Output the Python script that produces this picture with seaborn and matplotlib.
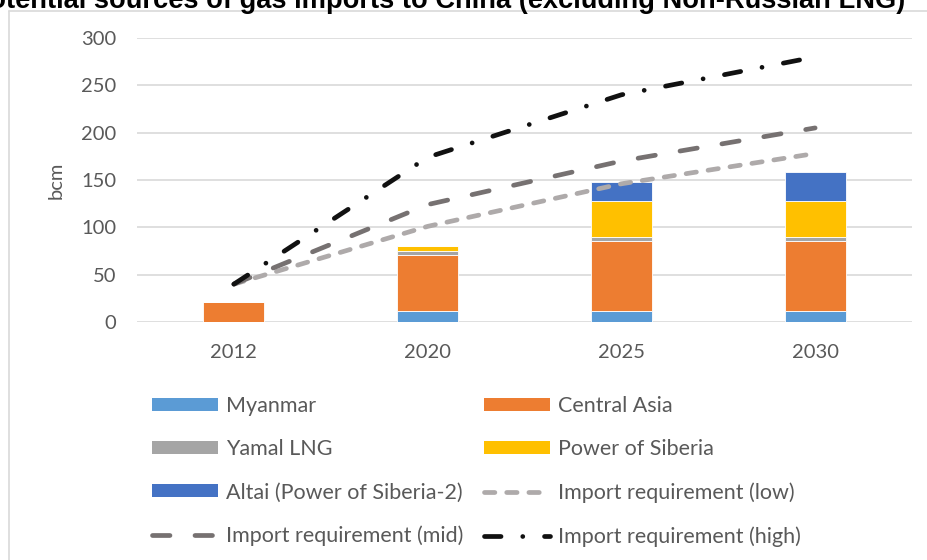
import matplotlib
matplotlib.use("Agg")
import matplotlib.pyplot as plt
import seaborn as sns
import numpy as np
from matplotlib.patches import Patch
from matplotlib.lines import Line2D

# Chart data (bcm)
years = ["2012", "2020", "2025", "2030"]
myanmar = [0, 12, 12, 12]
central_asia = [21, 59, 74, 74]
yamal_lng = [0, 4, 4, 4]
power_of_siberia = [0, 5, 38, 38]
altai = [0, 0, 20, 30]
req_low = [40, 101, 146, 178]
req_mid = [40, 124, 170, 205]
req_high = [40, 174, 240, 280]

stack_names = ["Myanmar", "Central Asia", "Yamal LNG", "Power of Siberia", "Altai (Power of Siberia-2)"]
stack_values = [myanmar, central_asia, yamal_lng, power_of_siberia, altai]
stack_colors = ["#5B9BD5", "#ED7D31", "#A5A5A5", "#FFC000", "#4472C4"]

line_names = ["Import requirement (low)", "Import requirement (mid)", "Import requirement (high)"]
line_values = [req_low, req_mid, req_high]
line_colors = ["#AEAAAA", "#767171", "#111111"]
line_styles = [(0, (2.2, 2.5)), (0, (3.7, 5.3)), (0, (3.5, 4.6, 0.01, 4.6))]

sns.set_style("white")
plt.rcParams["font.family"] = ["Lato", "DejaVu Sans"]

fig = plt.figure(figsize=(9.28, 5.6), dpi=100)
ax = fig.add_axes([137 / 928, 1 - 322 / 560, (912 - 137) / 928, (322 - 38) / 560])

# Stacked bars
bottom = np.zeros(len(years))
for name, vals, col in zip(stack_names, stack_values, stack_colors):
    sns.barplot(x=years, y=vals, bottom=bottom, color=col, saturation=1, width=0.315,
                errorbar=None, edgecolor="white", linewidth=0.6, ax=ax)
    bottom = bottom + np.array(vals)

# Import requirement lines
xpos = np.arange(len(years))
for name, vals, col, ls in zip(line_names, line_values, line_colors, line_styles):
    sns.lineplot(x=xpos, y=vals, color=col, linewidth=3.4, linestyle=ls,
                 dash_capstyle="round", solid_capstyle="round", ax=ax, zorder=5)

ax.set_xlim(-0.5, len(years) - 0.5)
ax.set_ylim(0, 300)
ax.set_yticks(np.arange(0, 301, 50))
ax.set_xticks(xpos)
ax.set_xticklabels(years)
for s in ax.spines.values():
    s.set_visible(False)
ax.yaxis.grid(True, color="#D9D9D9", linewidth=1.2)
ax.xaxis.grid(False)
ax.set_axisbelow(True)
ax.tick_params(axis="y", length=0, pad=15, labelsize=14.5, labelcolor="#595959")
ax.tick_params(axis="x", length=0, pad=16, labelsize=14.5, labelcolor="#595959")
ax.set_xlabel("")
ax.set_ylabel("bcm", fontsize=14.5, color="#595959", labelpad=12)

# Legend: two columns placed separately
def patch(c):
    return Patch(facecolor=c, edgecolor="none")

def line(c, ls):
    return Line2D([], [], color=c, linewidth=3.4, linestyle=ls, dash_capstyle="round")

col1 = [patch(stack_colors[0]), patch(stack_colors[2]), patch(stack_colors[4]),
        line(line_colors[1], line_styles[1])]
col1_labels = [stack_names[0], stack_names[2], stack_names[4], line_names[1]]
col2 = [patch(stack_colors[1]), patch(stack_colors[3]),
        line(line_colors[0], line_styles[0]), line(line_colors[2], line_styles[2])]
col2_labels = [stack_names[1], stack_names[3], line_names[0], line_names[2]]

leg_kw = dict(loc="upper left", frameon=False, fontsize=15.5, handlelength=3.07,
              handleheight=0.56, handletextpad=0.37, labelspacing=1.08,
              borderpad=0, borderaxespad=0, labelcolor="#595959")
leg1 = fig.legend(col1, col1_labels, bbox_to_anchor=(152 / 928, 1 - 396 / 560), **leg_kw)
leg2 = fig.legend(col2, col2_labels, bbox_to_anchor=(484 / 928, 1 - 396 / 560), **leg_kw)

# Chart border and clipped title (the reference crops the title at the top)
fig.add_artist(Line2D([9 / 928, 9 / 928], [0, 1 - 11 / 560], color="#D9D9D9", linewidth=1.2,
                      transform=fig.transFigure))
fig.add_artist(Line2D([9 / 928, 1], [1 - 11 / 560, 1 - 11 / 560], color="#D9D9D9", linewidth=1.2,
                      transform=fig.transFigure))
fig.text(905 / 928, 1 - 8 / 560,
         "Potential sources of gas imports to China (excluding Non-Russian LNG)",
         ha="right", va="baseline", fontsize=19.6, fontweight="bold",
         family=["Liberation Sans", "DejaVu Sans"], color="black")

fig.savefig("out.png", dpi=100)
